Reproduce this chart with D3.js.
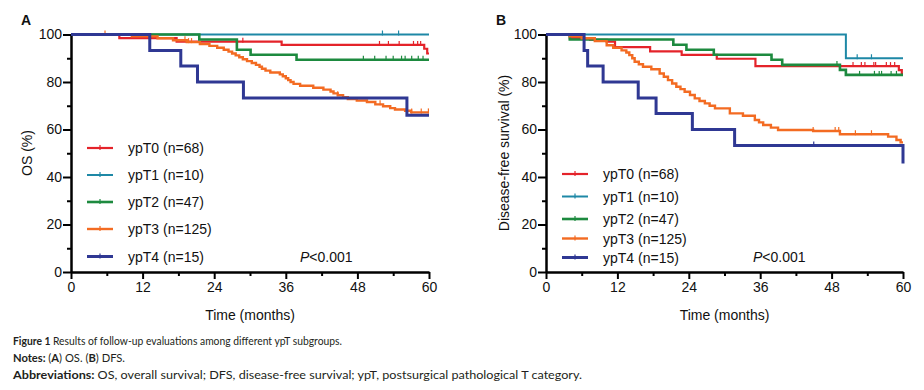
<!DOCTYPE html>
<html>
<head>
<meta charset="utf-8">
<script src="https://cdn.jsdelivr.net/npm/d3@7"></script>
<style>
body { margin: 0; background: #fff; }
text { font-family: "Liberation Sans", Arial, sans-serif; fill: #111; }
.cap { font-family: Lato, sans-serif; font-size: 11px; fill: #231f20; }
</style>
</head>
<body>
<svg id="chart" width="924" height="390"></svg>
<script>
var groups = ["ypT0 (n=68)", "ypT1 (n=10)", "ypT2 (n=47)", "ypT3 (n=125)", "ypT4 (n=15)"];
var colors = ["#e4232a", "#1e88a6", "#1d8a3f", "#f36b22", "#2f3893"];
var widths = [2.2, 2, 2.6, 2.4, 3];
var xTicks = [0, 12, 24, 36, 48, 60];
var yTicks = [0, 20, 40, 60, 80, 100];

// OS (panel A): steps [month, survival %]
var osT0 = [[8.1, 98.5], [17.7, 97.0], [35.3, 95.6], [59.2, 94.0], [59.7, 92.0]];
var osT1 = [];
var osT2 = [[21.5, 97.9], [27.8, 93.6], [30.1, 91.5], [37.8, 89.4]];
var osT3 = [[10.2, 99.2], [14.5, 98.4], [17.1, 97.6], [19.4, 96.8], [21.6, 96.0], [23.2, 95.2],
  [24.5, 94.4], [25.6, 93.6], [26.4, 92.8], [27.0, 92.0], [27.6, 91.2], [28.2, 90.4], [28.8, 89.6],
  [29.5, 88.8], [30.3, 88.0], [31.0, 87.2], [31.6, 86.4], [32.0, 85.6], [32.6, 84.8], [33.4, 84.0],
  [35.0, 83.2], [35.5, 82.4], [36.0, 81.6], [36.4, 80.8], [36.8, 80.0], [37.3, 79.2], [38.4, 78.4],
  [40.6, 77.6], [42.3, 76.8], [43.5, 76.0], [44.0, 75.2], [44.7, 74.4], [45.6, 73.6], [46.4, 72.8],
  [47.9, 72.2], [49.6, 71.6], [51.0, 70.6], [52.3, 69.8], [53.5, 69.0], [54.3, 68.4], [56.0, 67.9],
  [57.0, 67.2]];
var osT4 = [[13.2, 93.3], [18.4, 86.7], [21.2, 80.0], [28.9, 73.3], [56.3, 66.0]];
var osCens = [
  [28.8, 51.7, 53.2, 55.0, 57.4, 58.1, 58.6],
  [52.2, 54.9],
  [49.0, 50.9, 52.8, 54.0, 55.4, 56.0, 57.1, 58.2, 59.0],
  [5.7, 19.1, 19.7, 20.2, 44.7, 51.8, 57.1, 58.7, 59.9],
  []
];

// DFS (panel B)
var dfsT0 = [[4.0, 98.5], [7.4, 97.8], [10.2, 97.0], [11.6, 94.7], [17.5, 92.9], [22.8, 91.4],
  [28.7, 89.8], [35.2, 86.7], [59.3, 85.0], [59.8, 83.3]];
var dfsT1 = [[50.4, 90.0]];
var dfsT2 = [[4.0, 97.9], [21.4, 95.7], [23.6, 93.6], [28.2, 91.5], [37.9, 89.4], [39.7, 87.2],
  [49.4, 85.1], [50.4, 83.0]];
var dfsT3 = [[4.0, 99.2], [6.0, 98.4], [8.2, 97.2], [10.2, 95.5], [11.3, 94.4], [12.7, 93.3],
  [13.5, 92.4], [14.0, 91.3], [14.5, 90.0], [14.9, 88.5], [15.6, 87.5], [16.3, 86.4], [17.7, 85.4],
  [19.1, 83.6], [19.8, 82.2], [20.5, 80.8], [21.2, 79.4], [21.9, 78.0], [22.6, 77.0], [23.3, 75.9],
  [24.2, 74.5], [25.0, 73.1], [25.8, 72.0], [26.7, 71.0], [27.5, 70.0], [28.4, 68.9], [30.9, 66.8],
  [33.1, 65.8], [35.1, 64.0], [35.8, 63.0], [36.5, 61.9], [37.8, 60.8], [39.0, 59.8], [44.9, 59.4],
  [49.4, 58.0], [57.5, 57.0], [58.9, 55.6], [59.6, 54.6]];
var dfsT4 = [[6.4, 93.3], [7.0, 86.7], [9.6, 80.0], [15.5, 73.3], [18.5, 66.7], [24.6, 60.0],
  [31.7, 53.3], [60.0, 45.7]];
var dfsCens = [
  [51.6, 53.0, 53.6, 55.1, 55.4, 57.2, 57.9, 58.6],
  [52.3, 54.7],
  [48.9, 52.7, 55.2, 56.0, 56.4, 58.0, 58.9],
  [44.9, 48.6, 49.2, 52.0, 54.7],
  [45.0]
];

var svg = d3.select("#chart");

function survAt(steps, t) {
  var v = 100;
  steps.forEach(function(s) { if (s[0] <= t) v = s[1]; });
  return v;
}

function drawPanel(p) {
  var x = d3.scaleLinear().domain([0, 60]).range([p.left, p.right]);
  var y = d3.scaleLinear().domain([0, 100]).range([272, 34.5]);
  var g = svg.append("g");

  g.append("text").attr("x", p.letterX).attr("y", 25)
    .style("font-weight", "bold").style("font-size", "14px").text(p.letter);

  // minor ticks
  g.append("g").attr("transform", "translate(" + p.left + ",0)")
    .call(d3.axisLeft(y).tickValues([10, 30, 50, 70, 90]).tickSize(4).tickFormat(""))
    .call(function(a) { a.select(".domain").remove(); a.selectAll("line").attr("stroke-width", 2); });
  g.append("g").attr("transform", "translate(0,272)")
    .call(d3.axisBottom(x).tickValues([6, 18, 30, 42, 54]).tickSize(4).tickFormat(""))
    .call(function(a) { a.select(".domain").remove(); a.selectAll("line").attr("stroke-width", 2); });

  var ya = g.append("g").attr("transform", "translate(" + p.left + ",0)")
    .call(d3.axisLeft(y).tickValues(yTicks).tickSize(8).tickSizeOuter(0).tickPadding(1));
  var xa = g.append("g").attr("transform", "translate(0,272)")
    .call(d3.axisBottom(x).tickValues(xTicks).tickSize(7).tickSizeOuter(0).tickPadding(3));
  [ya, xa].forEach(function(a) {
    a.select(".domain").attr("stroke-width", 2.5).attr("stroke", "#000");
    a.selectAll("line").attr("stroke-width", 2).attr("stroke", "#000");
    a.selectAll("text").style("font-size", "14px").style("font-family", "Liberation Sans, Arial, sans-serif").attr("fill", "#111");
  });

  g.append("text").attr("x", (p.left + p.right) / 2).attr("y", 320)
    .attr("text-anchor", "middle").style("font-size", "14px").text("Time (months)");
  g.append("text").attr("transform", "translate(" + p.titleX + ",153) rotate(-90)")
    .attr("text-anchor", "middle").style("font-size", "14px").text(p.yTitle);

  var line = d3.line().x(function(d) { return x(d[0]); }).y(function(d) { return y(d[1]); })
    .curve(d3.curveStepAfter);

  p.series.forEach(function(steps, i) {
    var last = steps.length ? steps[steps.length - 1][1] : 100;
    var pts = [[0, 100]].concat(steps).concat([[60, last]]);
    g.append("path").datum(pts).attr("d", line).attr("fill", "none")
      .attr("stroke", colors[i]).attr("stroke-width", widths[i]);
    g.selectAll(null).data(p.cens[i]).enter().append("line")
      .attr("x1", function(t) { return x(t); }).attr("x2", function(t) { return x(t); })
      .attr("y1", function(t) { return y(survAt(steps, t)) - 4; })
      .attr("y2", function(t) { return y(survAt(steps, t)) + 1; })
      .attr("stroke", colors[i]).attr("stroke-width", 1.2);
  });

  var lg = g.selectAll(".lg").data(groups).enter().append("g")
    .attr("transform", function(d, i) { return "translate(" + p.legX + "," + p.legY[i] + ")"; });
  lg.append("line").attr("x1", 0).attr("x2", 26)
    .attr("stroke", function(d, i) { return colors[i]; })
    .attr("stroke-width", function(d, i) { return widths[i]; });
  lg.append("line").attr("x1", 13).attr("x2", 13).attr("y1", -3).attr("y2", 2)
    .attr("stroke", function(d, i) { return colors[i]; }).attr("stroke-width", 1.2);
  lg.append("text").attr("x", 41).attr("dy", "0.36em").style("font-size", "14px").text(function(d) { return d; });

  var pt = g.append("text").attr("x", p.pX).attr("y", 262).style("font-size", "14px");
  pt.append("tspan").style("font-style", "italic").text("P");
  pt.append("tspan").text("<0.001");
}

drawPanel({ left: 71, right: 429, letter: "A", letterX: 21, titleX: 32, yTitle: "OS (%)",
  series: [osT0, osT1, osT2, osT3, osT4], cens: osCens,
  legX: 87, legY: [148, 175, 202, 229, 256.5], pX: 300 });
drawPanel({ left: 546, right: 903, letter: "B", letterX: 496, titleX: 509, yTitle: "Disease-free survival (%)",
  series: [dfsT0, dfsT1, dfsT2, dfsT3, dfsT4], cens: dfsCens,
  legX: 562, legY: [174, 196.5, 219, 238.5, 257.5], pX: 753 });

// caption
var cap = svg.append("g");
var l1 = cap.append("text").attr("class", "cap").attr("x", 13).attr("y", 345)
  .attr("textLength", 329).attr("lengthAdjust", "spacingAndGlyphs");
l1.append("tspan").style("font-weight", "bold").text("Figure 1 ");
l1.append("tspan").text("Results of follow-up evaluations among different ypT subgroups.");
var l2 = cap.append("text").attr("class", "cap").attr("x", 13).attr("y", 362)
  .attr("textLength", 112).attr("lengthAdjust", "spacingAndGlyphs");
l2.append("tspan").style("font-weight", "bold").text("Notes: ");
l2.append("tspan").text("(");
l2.append("tspan").style("font-weight", "bold").text("A");
l2.append("tspan").text(") OS. (");
l2.append("tspan").style("font-weight", "bold").text("B");
l2.append("tspan").text(") DFS.");
var l3 = cap.append("text").attr("class", "cap").attr("x", 13).attr("y", 379)
  .attr("textLength", 569).attr("lengthAdjust", "spacingAndGlyphs");
l3.append("tspan").style("font-weight", "bold").text("Abbreviations: ");
l3.append("tspan").text("OS, overall survival; DFS, disease-free survival; ypT, postsurgical pathological T category.");
</script>
</body>
</html>
